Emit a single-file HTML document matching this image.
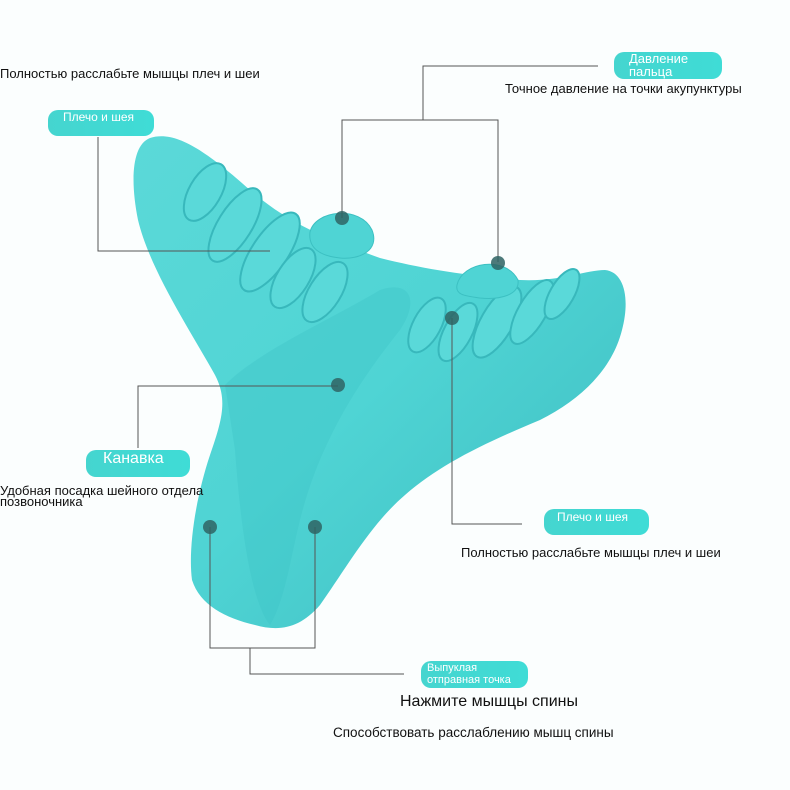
<!DOCTYPE html>
<html><head><meta charset="utf-8"><style>
html,body{margin:0;padding:0;background:#fbfefe;}
.wrap{position:relative;width:790px;height:790px;overflow:hidden;font-family:"Liberation Sans",sans-serif;}
svg{position:absolute;left:0;top:0}
.t{position:absolute;color:#111;font-size:13px;white-space:nowrap;line-height:12px}
.pill{position:absolute;background:linear-gradient(90deg,#45d5cf,#3fdcd6);border-radius:10px;color:#fff;font-size:12px;line-height:12px;white-space:nowrap}
</style></head><body><div class="wrap">
<svg width="790" height="790" viewBox="0 0 790 790">
<defs>
<linearGradient id="g" x1="0" y1="0" x2="1" y2="1">
<stop offset="0" stop-color="#5bd9d8"/><stop offset="0.5" stop-color="#4fd4d4"/><stop offset="1" stop-color="#3dbcc0"/></linearGradient>
</defs>
<path d="M150,138 C175,130 205,150 250,190 C290,225 330,240 380,258 C420,268 460,275 520,280 C560,282 585,270 605,270 C625,272 630,300 622,330 C612,370 580,400 540,420 C480,445 440,465 405,495 C370,525 345,570 320,605 C300,628 280,632 255,625 C225,618 200,605 192,580 C188,550 195,500 210,455 C222,420 228,400 215,375 C190,330 150,270 138,220 C130,180 132,145 150,138 Z" fill="url(#g)"/>
<path d="M225,385 C260,350 330,320 380,290 C410,280 420,300 400,330 C360,380 320,440 300,520 C290,560 285,600 270,625 C250,600 240,520 235,450 Z" fill="#3cc4c6" opacity="0.35"/>
<g fill="#5ad9d9" stroke="#38b8bc" stroke-width="2">
<ellipse cx="205" cy="192" rx="16" ry="32" transform="rotate(30 205 192)"/>
<ellipse cx="235" cy="225" rx="17" ry="42" transform="rotate(32 235 225)"/>
<ellipse cx="270" cy="252" rx="18" ry="46" transform="rotate(34 270 252)"/>
<ellipse cx="293" cy="278" rx="16" ry="34" transform="rotate(32 293 278)"/>
<ellipse cx="325" cy="292" rx="16" ry="34" transform="rotate(32 325 292)"/>
<ellipse cx="427" cy="325" rx="14" ry="30" transform="rotate(28 427 325)"/>
<ellipse cx="458" cy="332" rx="14" ry="32" transform="rotate(28 458 332)"/>
<ellipse cx="497" cy="322" rx="16" ry="40" transform="rotate(30 497 322)"/>
<ellipse cx="532" cy="312" rx="14" ry="36" transform="rotate(30 532 312)"/>
<ellipse cx="562" cy="294" rx="12" ry="28" transform="rotate(30 562 294)"/>
</g>
<path d="M310,232 C315,210 360,205 372,230 C380,250 360,260 340,258 C320,256 308,248 310,232Z" fill="#4fd4d4" stroke="#3cc0c2"/>
<path d="M457,285 C462,262 505,255 518,280 C520,295 500,300 480,298 C465,296 455,295 457,285Z" fill="#4fd4d4" stroke="#3cc0c2"/>
<g stroke="#555" stroke-width="1" fill="none">
<path d="M98,137 V251 H270"/>
<path d="M598,66 H423 V120"/>
<path d="M342,218 V120 H498 V262"/>
<path d="M338,386 H138 V448"/>
<path d="M452,318 V524 H522"/>
<path d="M210,527 V648 H315 V527"/>
<path d="M250,648 V674 H404"/>
</g>
<g fill="#2f6464" opacity="0.85">
<circle cx="342" cy="218" r="7"/><circle cx="498" cy="263" r="7"/><circle cx="452" cy="318" r="7"/>
<circle cx="338" cy="385" r="7"/><circle cx="210" cy="527" r="7"/><circle cx="315" cy="527" r="7"/>
</g>
</svg>
<div class="t" style="left:0;top:68px">Полностью расслабьте мышцы плеч и шеи</div>
<div class="pill" style="left:48px;top:110px;width:106px;height:26px"><span style="position:absolute;left:15px;top:1px">Плечо и шея</span></div>
<div class="pill" style="left:614px;top:52px;width:108px;height:27px"><span style="position:absolute;left:15px;top:0px;font-size:13px;line-height:13px">Давление<br>пальца</span></div>
<div class="t" style="left:505px;top:83px">Точное давление на точки акупунктуры</div>
<div class="pill" style="left:86px;top:450px;width:104px;height:27px"><span style="position:absolute;left:17px;top:1px;font-size:16px;line-height:16px">Канавка</span></div>
<div class="t" style="left:0;top:485px;line-height:11px">Удобная посадка шейного отдела<br>позвоночника</div>
<div class="pill" style="left:544px;top:509px;width:105px;height:26px"><span style="position:absolute;left:13px;top:2px">Плечо и шея</span></div>
<div class="t" style="left:461px;top:547px">Полностью расслабьте мышцы плеч и шеи</div>
<div class="pill" style="left:421px;top:661px;width:107px;height:27px"><span style="position:absolute;left:6px;top:1px;font-size:11px;line-height:12px">Выпуклая<br>отправная точка</span></div>
<div class="t" style="left:400px;top:694px;font-size:16px;line-height:16px">Нажмите мышцы спины</div>
<div class="t" style="left:333px;top:727px;font-size:13.5px">Способствовать расслаблению мышц спины</div>
</div></body></html>
